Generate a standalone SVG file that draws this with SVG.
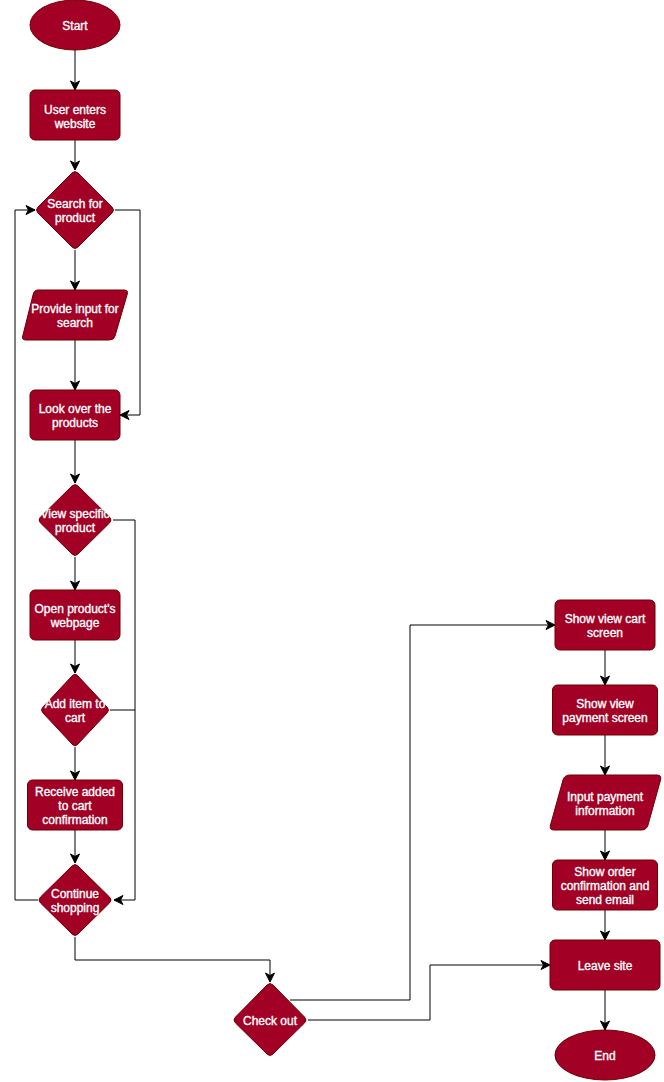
<svg xmlns="http://www.w3.org/2000/svg" width="664" height="1082" viewBox="0 0 664 1082">
  <style>
    .node { fill: #a20025; stroke: #6f0000; stroke-width: 1; }
    .label { font-family: "Liberation Sans", Arial, Helvetica, sans-serif; font-size: 12px; fill: #ffffff; stroke: #ffffff; stroke-width: 0.35; text-anchor: middle; }
    .edge { fill: none; stroke: #000000; stroke-width: 1; }
  </style>
  <defs>
    <marker id="arrow" markerUnits="userSpaceOnUse" markerWidth="12" markerHeight="12" refX="10" refY="6" orient="auto">
      <path d="M1,1.5 L10,6 L1,10.5 L3.5,6 Z" fill="#000000" stroke="#000000" stroke-width="1"/>
    </marker>
  </defs>
  <rect width="664" height="1082" fill="#ffffff"/>

  <!-- connectors -->
  <g id="connectors">
    <path class="edge" d="M75,50 L75,90" marker-end="url(#arrow)"/>
    <path class="edge" d="M75,140 L75,170" marker-end="url(#arrow)"/>
    <path class="edge" d="M75,250 L75,290" marker-end="url(#arrow)"/>
    <path class="edge" d="M75,340 L75,390" marker-end="url(#arrow)"/>
    <path class="edge" d="M115,210 L140,210 L140,415 L120,415" marker-end="url(#arrow)"/>
    <path class="edge" d="M75,440 L75,483" marker-end="url(#arrow)"/>
    <path class="edge" d="M75,557 L75,590" marker-end="url(#arrow)"/>
    <path class="edge" d="M113,520 L135,520 L135,900 L114,900" marker-end="url(#arrow)"/>
    <path class="edge" d="M110,710 L135,710"/>
    <path class="edge" d="M75,640 L75,673" marker-end="url(#arrow)"/>
    <path class="edge" d="M75,747 L75,780" marker-end="url(#arrow)"/>
    <path class="edge" d="M75,830 L75,863" marker-end="url(#arrow)"/>
    <path class="edge" d="M38,900 L15,900 L15,210 L35,210" marker-end="url(#arrow)"/>
    <path class="edge" d="M75,937 L75,960 L270,960 L270,982" marker-end="url(#arrow)"/>
    <path class="edge" d="M290,1000 L410,1000 L410,625 L555,625" marker-end="url(#arrow)"/>
    <path class="edge" d="M308,1020 L430,1020 L430,965 L550,965" marker-end="url(#arrow)"/>
    <path class="edge" d="M605,650 L605,685" marker-end="url(#arrow)"/>
    <path class="edge" d="M605,735 L605,775" marker-end="url(#arrow)"/>
    <path class="edge" d="M605,830 L605,860" marker-end="url(#arrow)"/>
    <path class="edge" d="M605,910 L605,940" marker-end="url(#arrow)"/>
    <path class="edge" d="M605,990 L605,1030" marker-end="url(#arrow)"/>
  </g>

  <!-- left column -->
  <g id="start">
    <ellipse class="node" cx="75" cy="25" rx="45" ry="25"/>
    <text class="label" x="75" y="30">Start</text>
  </g>
  <g id="user-enters">
    <rect class="node" x="30" y="90" width="90" height="50" rx="5"/>
    <text class="label" x="75" y="114">User enters</text>
    <text class="label" x="75" y="128">website</text>
  </g>
  <g id="search">
    <path class="node" d="M72,173 Q75,170 78,173 L112,207 Q115,210 112,213 L78,247 Q75,250 72,247 L38,213 Q35,210 38,207 Z"/>
    <text class="label" x="75" y="208">Search for</text>
    <text class="label" x="75" y="222">product</text>
  </g>
  <g id="provide-input">
    <path class="node" d="M38,290 L124,290 Q129,290 127,295 L115,336 Q114,340 109,340 L26,340 Q21,340 23,335 L33,295 Q34,290 38,290 Z"/>
    <text class="label" x="75" y="313">Provide input for</text>
    <text class="label" x="75" y="327">search</text>
  </g>
  <g id="look-over">
    <rect class="node" x="30" y="390" width="90" height="50" rx="5"/>
    <text class="label" x="75" y="413">Look over the</text>
    <text class="label" x="75" y="427">products</text>
  </g>
  <g id="view-specific">
    <path class="node" d="M72,486 Q75,483 78,486 L109.5,517 Q112.5,520 109.5,523 L78,554 Q75,557 72,554 L40.5,523 Q37.5,520 40.5,517 Z"/>
    <text class="label" x="75" y="518">View specific</text>
    <text class="label" x="75" y="532">product</text>
  </g>
  <g id="open-product">
    <rect class="node" x="30" y="590" width="90" height="50" rx="5"/>
    <text class="label" x="75" y="613">Open product's</text>
    <text class="label" x="75" y="627">webpage</text>
  </g>
  <g id="add-item">
    <path class="node" d="M72,676 Q75,672.5 78,676 L107,707 Q110,710 107,713 L78,744 Q75,747.5 72,744 L43,713 Q40,710 43,707 Z"/>
    <text class="label" x="75" y="708">Add item to</text>
    <text class="label" x="75" y="722">cart</text>
  </g>
  <g id="receive-confirmation">
    <rect class="node" x="27.5" y="780" width="95" height="50" rx="5"/>
    <text class="label" x="75" y="796">Receive added</text>
    <text class="label" x="75" y="810">to cart</text>
    <text class="label" x="75" y="824">confirmation</text>
  </g>
  <g id="continue-shopping">
    <path class="node" d="M72,866 Q75,863 78,866 L109.5,897 Q112.5,900 109.5,903 L78,934 Q75,937 72,934 L40.5,903 Q37.5,900 40.5,897 Z"/>
    <text class="label" x="75" y="898">Continue</text>
    <text class="label" x="75" y="912">shopping</text>
  </g>
  <g id="check-out">
    <path class="node" d="M267,985 Q270,982 273,985 L304.5,1017 Q307.5,1020 304.5,1023 L273,1054 Q270,1057 267,1054 L235.5,1023 Q232.5,1020 235.5,1017 Z"/>
    <text class="label" x="270" y="1025">Check out</text>
  </g>

  <!-- right column -->
  <g id="view-cart">
    <rect class="node" x="555" y="600" width="100" height="50" rx="5"/>
    <text class="label" x="605" y="623">Show view cart</text>
    <text class="label" x="605" y="637">screen</text>
  </g>
  <g id="view-payment">
    <rect class="node" x="552.5" y="685" width="105" height="50" rx="5"/>
    <text class="label" x="605" y="708">Show view</text>
    <text class="label" x="605" y="722">payment screen</text>
  </g>
  <g id="input-payment">
    <path class="node" d="M570,775 L657,775 Q662,775 660.5,780 L648,825 Q646.5,830 641.5,830 L554,830 Q549,830 550.5,825 L563,780 Q564.5,775 570,775 Z"/>
    <text class="label" x="605" y="801">Input payment</text>
    <text class="label" x="605" y="815">information</text>
  </g>
  <g id="order-confirmation">
    <rect class="node" x="552.5" y="860" width="105" height="50" rx="5"/>
    <text class="label" x="605" y="876">Show order</text>
    <text class="label" x="605" y="890">confirmation and</text>
    <text class="label" x="605" y="904">send email</text>
  </g>
  <g id="leave-site">
    <rect class="node" x="550" y="940" width="110" height="50" rx="5"/>
    <text class="label" x="605" y="970">Leave site</text>
  </g>
  <g id="end">
    <ellipse class="node" cx="605" cy="1055" rx="50" ry="25"/>
    <text class="label" x="605" y="1060">End</text>
  </g>
</svg>
